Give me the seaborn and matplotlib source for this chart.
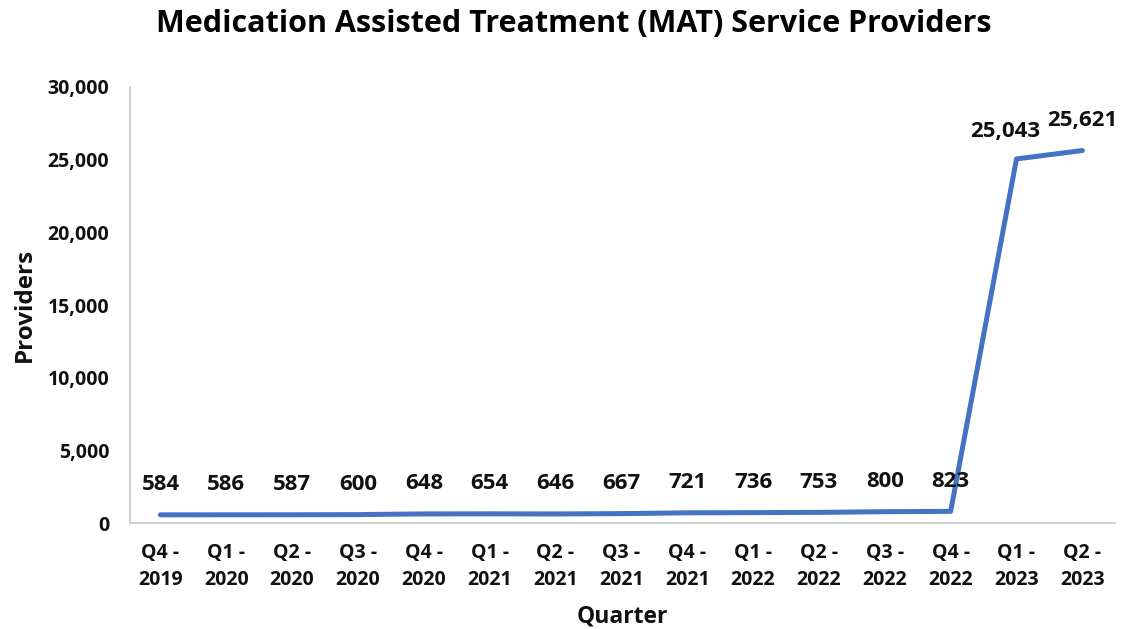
import matplotlib.pyplot as plt
import pandas as pd
import seaborn as sns

# Chart data
quarters = ['Q4 -\n2019', 'Q1 -\n2020', 'Q2 -\n2020', 'Q3 -\n2020', 'Q4 -\n2020',
            'Q1 -\n2021', 'Q2 -\n2021', 'Q3 -\n2021', 'Q4 -\n2021', 'Q1 -\n2022',
            'Q2 -\n2022', 'Q3 -\n2022', 'Q4 -\n2022', 'Q1 -\n2023', 'Q2 -\n2023']
providers = [584, 586, 587, 600, 648, 654, 646, 667, 721, 736, 753, 800, 823, 25043, 25621]
y_ticks = [0, 5000, 10000, 15000, 20000, 25000, 30000]

df = pd.DataFrame({'pos': range(len(quarters)), 'Providers': providers})

sns.set_style('white')
plt.rcParams['font.family'] = ['Open Sans', 'DejaVu Sans']

fig, ax = plt.subplots(figsize=(11.22, 6.29), dpi=100)
fig.subplots_adjust(left=0.116, right=0.994, bottom=0.168, top=0.862)

sns.lineplot(data=df, x='pos', y='Providers', ax=ax, color='#4472C4', linewidth=3.6)

# Data labels above each point
for i, v in enumerate(providers):
    dx = -8 if i == len(providers) - 2 else 0
    dy = 12 if i == len(providers) - 2 else 14
    ax.annotate(f'{v:,}', (i, v), xytext=(dx, dy), textcoords='offset points',
                ha='center', va='bottom', fontsize=16, fontweight='bold', color='#111111')

ax.set_xlim(-0.46, 14.5)
ax.set_ylim(0, 30000)
ax.set_xticks(range(len(quarters)))
ax.set_xticklabels(quarters, fontsize=14, fontweight='bold', color='#111111', linespacing=1.5)
ax.set_yticks(y_ticks)
ax.set_yticklabels([f'{t:,}' for t in y_ticks], fontsize=14, fontweight='bold', color='#111111')
ax.tick_params(axis='x', length=0, pad=14)
ax.tick_params(axis='y', length=0, pad=15)

ax.set_xlabel('Quarter', fontsize=16.5, fontweight='bold', labelpad=10, color='#111111')
ax.set_ylabel('Providers', fontsize=17.5, fontweight='bold', labelpad=8, color='#111111')
fig.text(0.511, 1 - 24 / 629, 'Medication Assisted Treatment (MAT) Service Providers',
         fontsize=22, fontweight='bold', ha='center', va='center', color='#000000')

for side in ['top', 'right']:
    ax.spines[side].set_visible(False)
for side in ['left', 'bottom']:
    ax.spines[side].set_color('#c8c8c8')
    ax.spines[side].set_linewidth(1.2)

plt.savefig('out.png', dpi=100)
